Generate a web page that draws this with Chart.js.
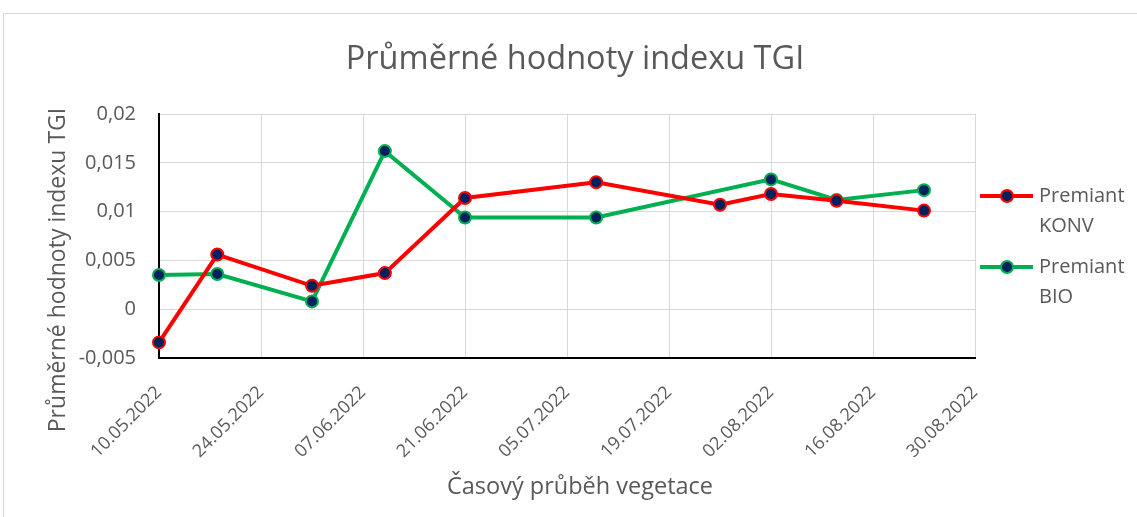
<!DOCTYPE html>
<html>
<head>
<meta charset="utf-8">
<script src="https://cdn.jsdelivr.net/npm/chart.js@4.4.1/dist/chart.umd.min.js"></script>
<style>
html, body { margin: 0; padding: 0; background: #fff; }
#wrap { width: 1137px; height: 517px; }
</style>
</head>
<body>
<div id="wrap"><canvas id="tgiChart" width="1137" height="517"></canvas></div>
<script>
// ---- data ----
const sampleDates = ['10.05.2022', '18.05.2022', '31.05.2022', '10.06.2022', '21.06.2022',
                     '09.07.2022', '26.07.2022', '02.08.2022', '11.08.2022', '23.08.2022'];
const konvValues = [-0.0034, 0.0056, 0.0024, 0.0037, 0.0114, 0.0130, 0.0107, 0.0118, 0.0111, 0.0101];
const bioValues  = [0.0035, 0.0036, 0.0008, 0.0162, 0.0094, 0.0094, null, 0.0133, 0.0112, 0.0122];
const xTickLabels = ['10.05.2022', '24.05.2022', '07.06.2022', '21.06.2022', '05.07.2022',
                     '19.07.2022', '02.08.2022', '16.08.2022', '30.08.2022'];
const yTickValues = [-0.005, 0, 0.005, 0.01, 0.015, 0.02];
const seriesNames = [['Premiant', 'KONV'], ['Premiant', 'BIO']];

const TITLE = 'Průměrné hodnoty indexu TGI';
const X_TITLE = 'Časový průběh vegetace';
const Y_TITLE = 'Průměrné hodnoty indexu TGI';
const FONT = '"Open Sans", "Noto Sans", sans-serif';
const GREY_TEXT = '#595959';

// days since the first tick date
function dayNum(s) {
    const [d, m, y] = s.split('.').map(Number);
    const [d0, m0, y0] = xTickLabels[0].split('.').map(Number);
    return Math.round((Date.UTC(y, m - 1, d) - Date.UTC(y0, m0 - 1, d0)) / 86400000);
}

function toPoints(values) {
    return sampleDates.map((s, i) => ({ x: dayNum(s), y: values[i] }));
}

function czNum(v) {
    return String(Number(v.toFixed(4))).replace('.', ',');
}

// ---- frame, titles, side legend ----
const decorations = {
    id: 'decorations',
    beforeDraw(chart) {
        const ctx = chart.ctx;
        ctx.save();
        ctx.fillStyle = '#fff';
        ctx.fillRect(0, 0, chart.width, chart.height);
        ctx.strokeStyle = '#d9d9d9';
        ctx.lineWidth = 1;
        ctx.strokeRect(3.5, 13.5, chart.width + 10, chart.height + 10);
        ctx.restore();
    },
    afterDraw(chart) {
        const ctx = chart.ctx, area = chart.chartArea;
        ctx.save();
        ctx.fillStyle = GREY_TEXT;
        ctx.textAlign = 'center';
        ctx.textBaseline = 'middle';

        // chart title
        ctx.font = '32.5px ' + FONT;
        ctx.fillText(TITLE, 575, 60);

        // axis titles
        ctx.font = '23.5px ' + FONT;
        ctx.fillText(X_TITLE, 580, 487);
        ctx.save();
        ctx.translate(58, 270);
        ctx.rotate(-Math.PI / 2);
        ctx.font = '23px ' + FONT;
        ctx.fillText(Y_TITLE, 0, 0);
        ctx.restore();

        // legend on the right
        const x0 = area.right + 5;
        const rowY = [196, 267];
        ctx.font = '20px ' + FONT;
        ctx.textAlign = 'left';
        chart.data.datasets.forEach((ds, i) => {
            const y = rowY[i];
            ctx.strokeStyle = ds.borderColor;
            ctx.lineWidth = 4;
            ctx.beginPath(); ctx.moveTo(x0, y); ctx.lineTo(x0 + 53, y); ctx.stroke();
            ctx.beginPath(); ctx.arc(x0 + 27, y, 6, 0, Math.PI * 2);
            ctx.fillStyle = ds.pointBackgroundColor; ctx.fill();
            ctx.lineWidth = 2; ctx.strokeStyle = ds.pointBorderColor; ctx.stroke();
            ctx.fillStyle = GREY_TEXT;
            seriesNames[i].forEach((t, j) => ctx.fillText(t, x0 + 59, y + j * 30));
        });
        ctx.restore();
    }
};

function makeSeries(label, values, color) {
    return {
        label: label,
        data: toPoints(values),
        borderColor: color,
        borderWidth: 4,
        pointBackgroundColor: '#002060',
        pointBorderColor: color,
        pointBorderWidth: 2,
        pointRadius: 6,
        pointHoverRadius: 6,
        tension: 0,
        spanGaps: true,
        clip: false
    };
}

new Chart(document.getElementById('tgiChart').getContext('2d'), {
    type: 'line',
    data: {
        datasets: [
            makeSeries(seriesNames[0].join(' '), konvValues, '#ff0000'),
            makeSeries(seriesNames[1].join(' '), bioValues, '#00b050')
        ]
    },
    options: {
        responsive: false,
        animation: false,
        layout: { padding: { left: 4, right: 162, top: 114, bottom: 0 } },
        plugins: {
            legend: { display: false },
            tooltip: { enabled: false },
            title: { display: false }
        },
        scales: {
            x: {
                type: 'linear',
                min: dayNum(xTickLabels[0]),
                max: dayNum(xTickLabels[xTickLabels.length - 1]),
                afterBuildTicks: (scale) => { scale.ticks = xTickLabels.map(s => ({ value: dayNum(s) })); },
                afterFit: (scale) => { scale.height = 159; },
                grid: { color: '#d9d9d9', lineWidth: 1, drawTicks: false },
                border: { display: true, color: '#000', width: 2 },
                ticks: {
                    color: GREY_TEXT,
                    font: { family: FONT, size: 18 },
                    minRotation: 45,
                    maxRotation: 45,
                    padding: 24,
                    autoSkip: false,
                    callback: (value, index) => xTickLabels[index]
                }
            },
            y: {
                min: yTickValues[0],
                max: yTickValues[yTickValues.length - 1],
                afterBuildTicks: (scale) => { scale.ticks = yTickValues.map(v => ({ value: v })); },
                afterFit: (scale) => { scale.width = 155; },
                grid: { color: '#d9d9d9', lineWidth: 1, drawTicks: false },
                border: { display: true, color: '#000', width: 2 },
                ticks: {
                    color: GREY_TEXT,
                    font: { family: FONT, size: 20 },
                    padding: 23,
                    callback: (value) => czNum(value)
                }
            }
        }
    },
    plugins: [decorations]
});
</script>
</body>
</html>
